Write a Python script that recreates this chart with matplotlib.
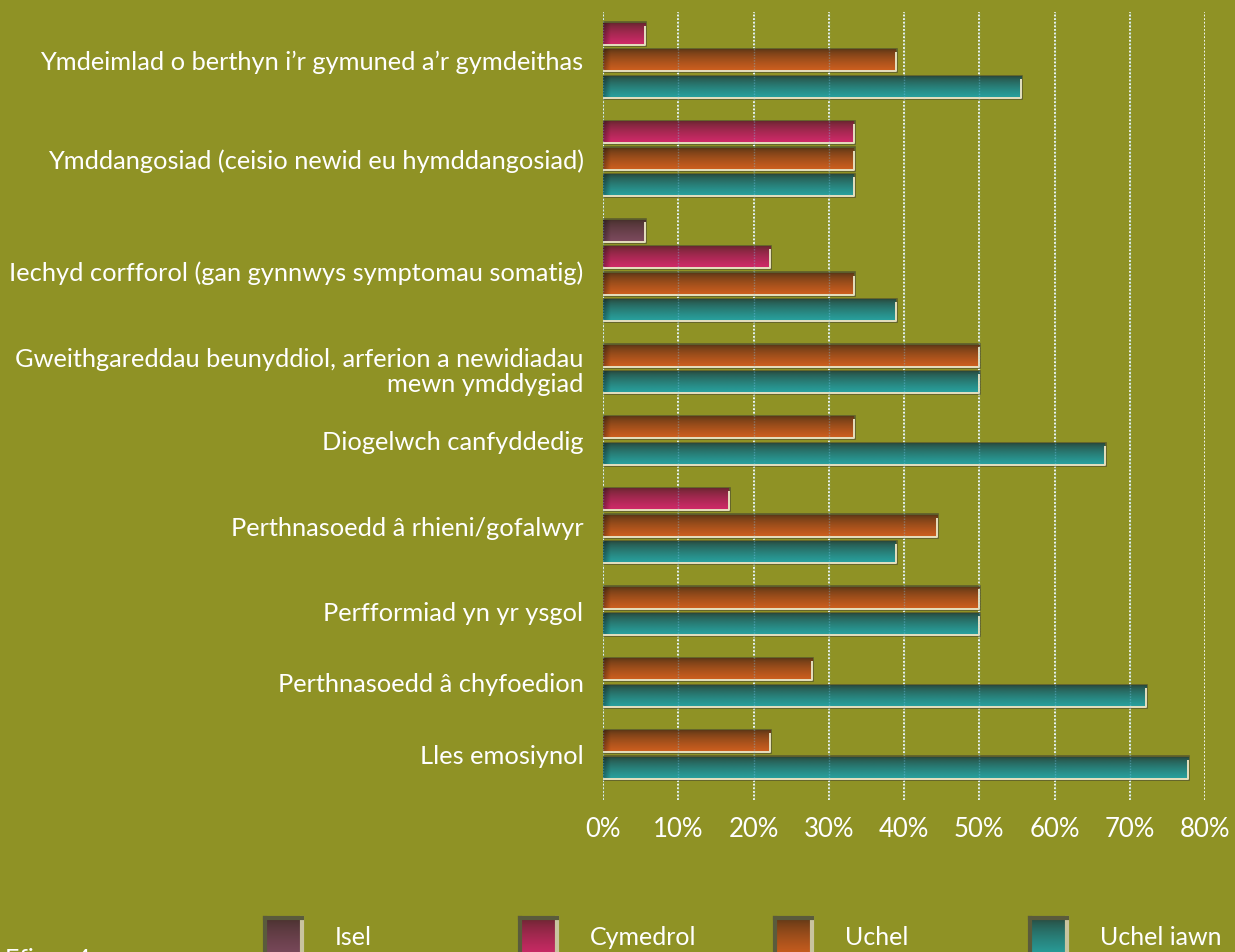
import matplotlib
matplotlib.use('Agg')
import matplotlib.pyplot as plt
import numpy as np
from matplotlib.colors import to_rgb

# ---- data ----
categories = [
    "Ymdeimlad o berthyn i\u2019r gymuned a\u2019r gymdeithas",
    "Ymddangosiad (ceisio newid eu hymddangosiad)",
    "Iechyd corfforol (gan gynnwys symptomau somatig)",
    "Gweithgareddau beunyddiol, arferion a newidiadau\nmewn ymddygiad",
    "Diogelwch canfyddedig",
    "Perthnasoedd \u00e2 rhieni/gofalwyr",
    "Perfformiad yn yr ysgol",
    "Perthnasoedd \u00e2 chyfoedion",
    "Lles emosiynol",
]
series_names = ["Isel", "Cymedrol", "Uchel", "Uchel iawn"]
isel = [0, 0, 5.6, 0, 0, 0, 0, 0, 0]
cymedrol = [5.6, 33.3, 22.2, 0, 0, 16.7, 0, 0, 0]
uchel = [38.9, 33.3, 33.3, 50.0, 33.3, 44.4, 50.0, 27.8, 22.2]
uchel_iawn = [55.6, 33.3, 38.9, 50.0, 66.7, 38.9, 50.0, 72.2, 77.8]
xtick_values = [0, 10, 20, 30, 40, 50, 60, 70, 80]
xtick_labels = ["0%", "10%", "20%", "30%", "40%", "50%", "60%", "70%", "80%"]
figure_label = "Ffigur 4"

series_values = [isel, cymedrol, uchel, uchel_iawn]
# (top colour, bottom colour) for gradient look
series_colors = [
    ("#47302c", "#7d4a5e"),
    ("#66262e", "#d22a6a"),
    ("#5a3616", "#d0601f"),
    ("#28463a", "#28a3a0"),
]

BG = "#8f9225"
FONT = "Lato"
plt.rcParams['font.family'] = [FONT, 'DejaVu Sans']

W, H = 1235, 952
fig = plt.figure(figsize=(W / 100, H / 100), dpi=100, facecolor=BG)
ax = fig.add_axes([603 / W, 1 - 800 / H, (1205 - 603) / W, (800 - 12) / H])
ax.set_facecolor(BG)

# ---- positions: only non-zero bars occupy a slot ----
pitch, group_gap = 1.0, 1.7
bar_h = 0.8
pos = 0.0
bars = []        # (y, value, series index)
centers = []
first = True
for ci in range(len(categories)):
    ys = []
    for si in range(len(series_names)):
        v = series_values[si][ci]
        if v > 0:
            if not first:
                pos += pitch if ys else group_gap
            first = False
            ys.append(pos)
            bars.append((pos, v, si))
    centers.append(np.mean(ys))

ymin, ymax = -0.83, pos + 1.2

# grid behind
for xv in xtick_values:
    ax.axvline(xv, color="white", lw=1.3, ls=(0, (1, 1)), zorder=1)

def vgrad(c_top, c_bot, n=64):
    t = np.linspace(0, 1, n) ** 0.7
    a = np.array(to_rgb(c_top)); b = np.array(to_rgb(c_bot))
    return (a[None, :] * (1 - t[:, None]) + b[None, :] * t[:, None])[:, None, :]

for (y, v, si) in bars:
    top, bot = series_colors[si]
    y0, y1 = y - bar_h / 2, y + bar_h / 2
    # shadow outline
    ax.add_patch(plt.Rectangle((0, y0), v, bar_h, facecolor="none",
                               edgecolor="#5b5c2c", lw=2.6, zorder=2))
    ax.imshow(vgrad(top, bot), extent=[0, v, y1, y0], aspect='auto',
              interpolation='bilinear', zorder=3)
    # left-end darkening
    lw_ = min(1.0, v)
    shade = np.zeros((1, 32, 4))
    shade[..., 3] = np.linspace(0.35, 0, 32)
    ax.imshow(shade, extent=[0, lw_, y1, y0], aspect='auto',
              interpolation='bilinear', zorder=3.5)
    # light bottom / right edge
    ax.plot([0, v, v], [y1, y1, y0 + 0.08], color="#e6e0bf", lw=1.4,
            zorder=4, solid_capstyle='butt')

# faint grid over bars
for xv in xtick_values:
    ax.axvline(xv, color="#7fd0ff", lw=1.0, ls=(0, (1, 1)), alpha=0.35, zorder=5)

ax.set_xlim(0, 80)
ax.set_ylim(ymax, ymin)
ax.set_xticks(xtick_values)
ax.set_xticklabels(xtick_labels)
ax.set_yticks(centers)
ax.set_yticklabels(categories, multialignment='right', linespacing=1.1)
ax.tick_params(axis='x', length=0, pad=12, labelsize=18.5, colors='white')
ax.tick_params(axis='y', length=0, pad=14, labelsize=18.3, colors='white')
for s in ax.spines.values():
    s.set_visible(False)

# ---- legend (manual) ----
leg_x = [265, 520, 775, 1030]
for si, name in enumerate(series_names):
    x0 = leg_x[si]
    lax = fig.add_axes([x0 / W, 1 - 958 / H, 37 / W, 40 / H])
    top, bot = series_colors[si]
    lax.imshow(vgrad(top, bot), extent=[0, 1, 0, 1], aspect='auto',
               interpolation='bilinear')
    lax.set_xticks([]); lax.set_yticks([])
    for s in lax.spines.values():
        s.set_color("#5a5b3c"); s.set_linewidth(3)
    lax.spines['bottom'].set_color("#e6e0bf")
    lax.spines['right'].set_color("#c9c4a0")
    fig.text((x0 + 70) / W, 1 - 945 / H, name, color='white', fontsize=18,
             va='baseline', ha='left')

fig.text(5 / W, 1 - 967 / H, figure_label, color='white', fontsize=18,
         va='baseline', ha='left')

fig.savefig("out.png", dpi=100, facecolor=BG)
